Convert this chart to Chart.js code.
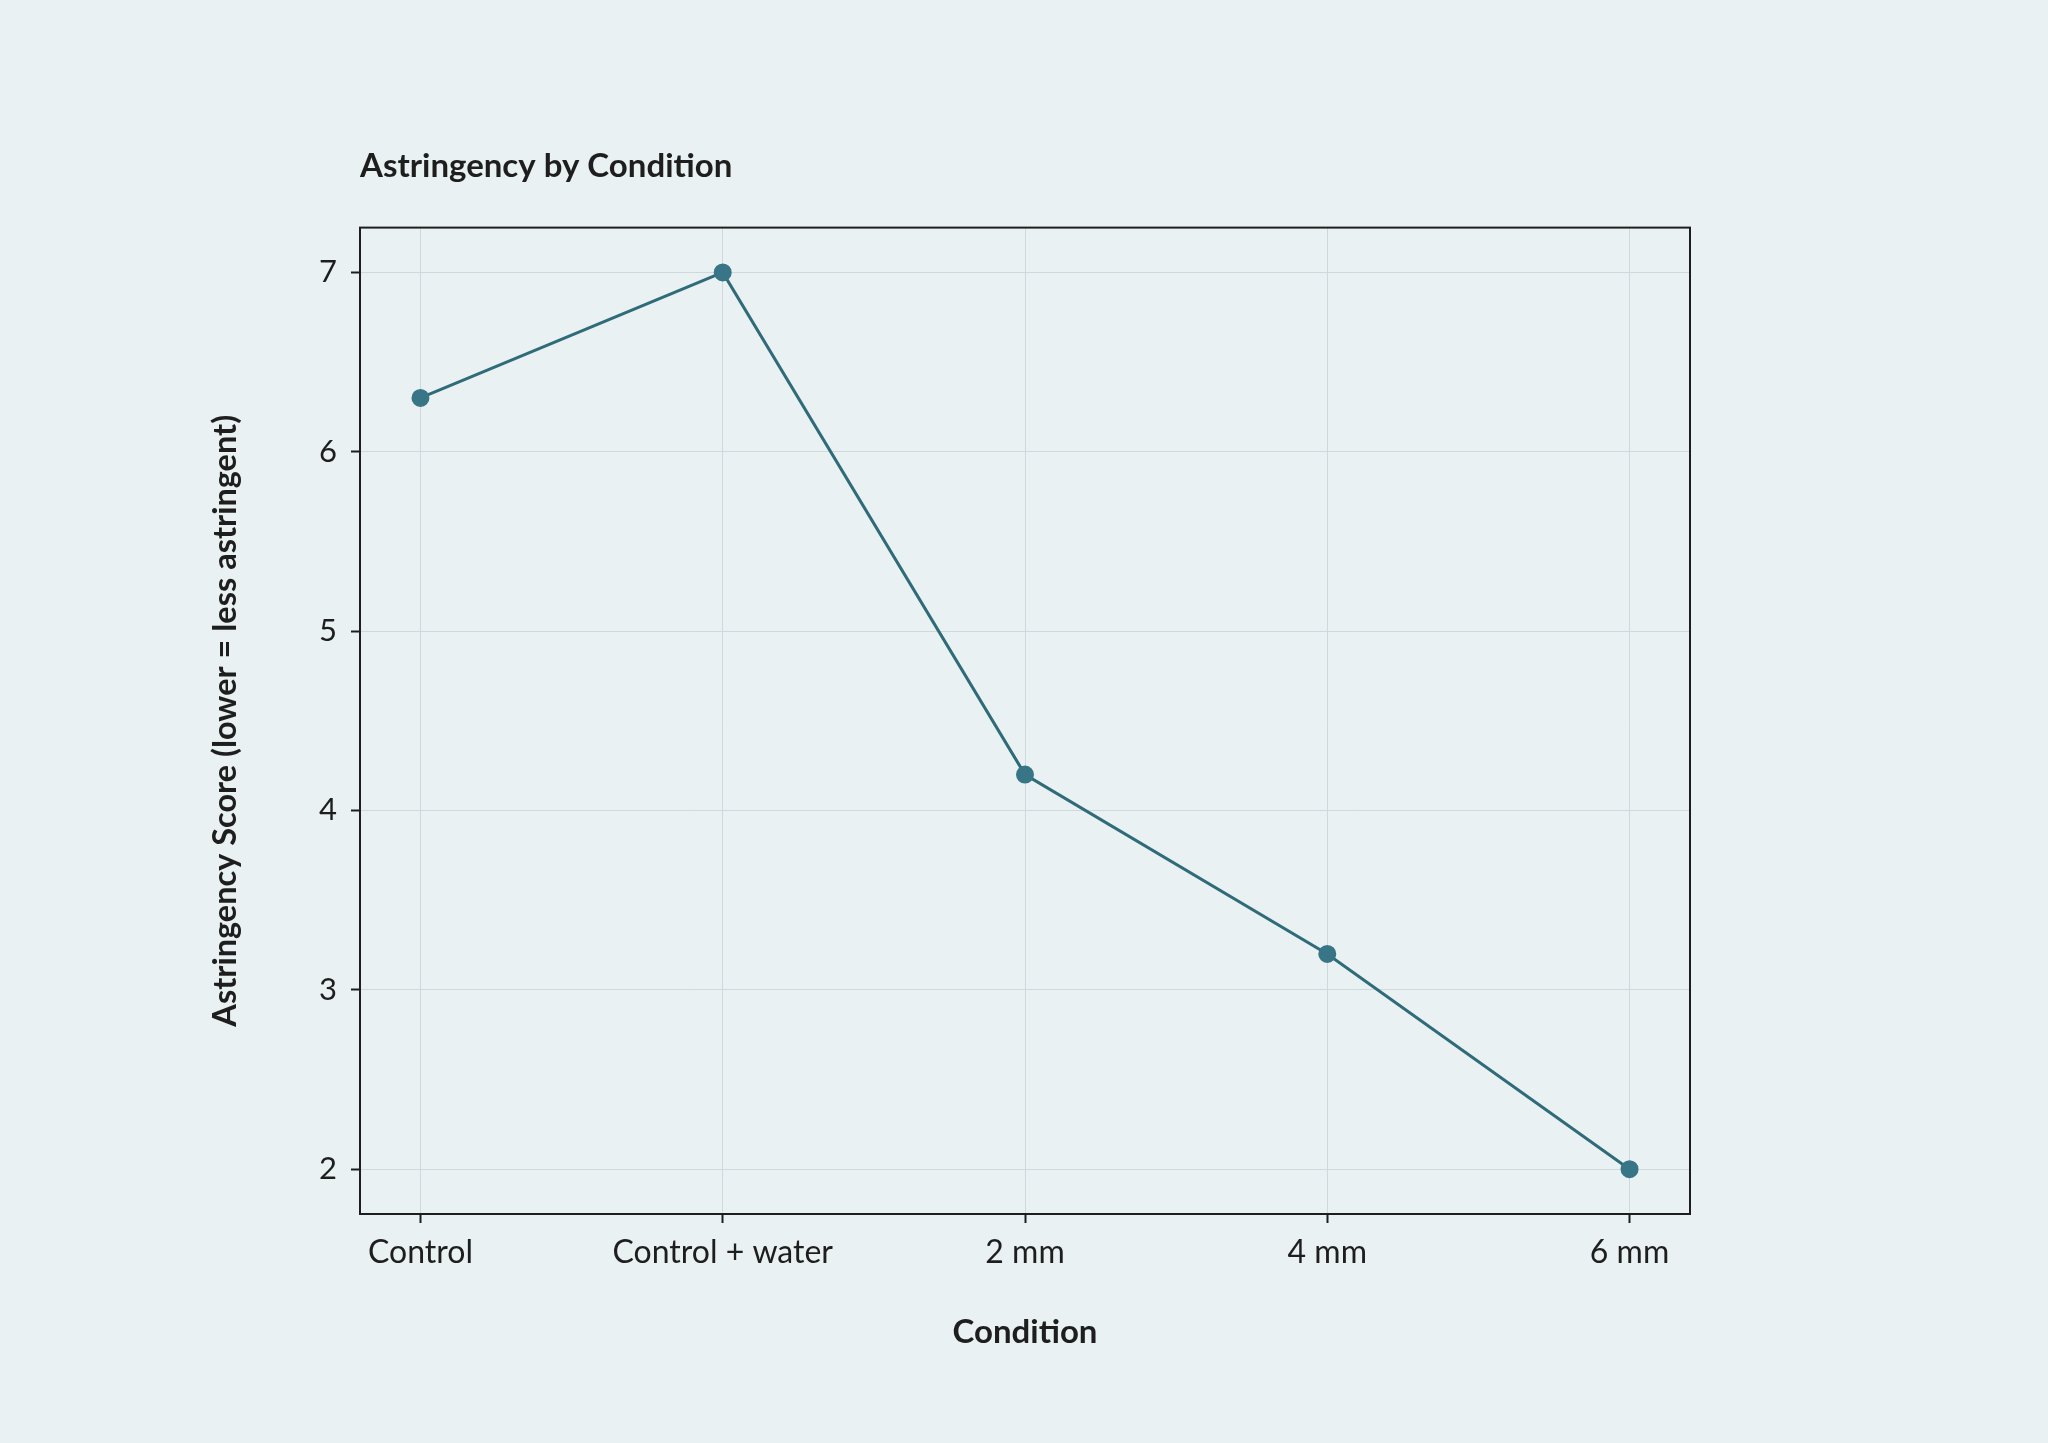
<!DOCTYPE html>
<html>
<head>
<meta charset="utf-8">
<script src="https://cdn.jsdelivr.net/npm/chart.js@4.4.1/dist/chart.umd.min.js"></script>
<style>
  html, body { margin: 0; padding: 0; background: #e9f1f3; }
  #wrap { width: 2048px; height: 1443px; position: relative; }
</style>
</head>
<body>
<div id="wrap"><canvas id="c" width="2048" height="1443"></canvas></div>
<script>
const categories = ["Control", "Control + water", "2 mm", "4 mm", "6 mm"];
const scores = [6.3, 7.0, 4.2, 3.2, 2.0];
const yTicks = [2, 3, 4, 5, 6, 7];
const chartTitle = "Astringency by Condition";
const xTitle = "Condition";
const yTitle = "Astringency Score (lower = less astringent)";

const FONT = "Lato, 'Open Sans', sans-serif";
const TEXT = "#1e1e1e";

const boxBorder = {
  id: 'boxBorder',
  afterDatasetsDraw(chart) {
    const a = chart.chartArea, ctx = chart.ctx;
    ctx.save();
    ctx.strokeStyle = '#1e1e1e';
    ctx.lineWidth = 2;
    ctx.strokeRect(a.left, a.top, a.right - a.left, a.bottom - a.top);
    ctx.restore();
  }
};

new Chart(document.getElementById('c'), {
  type: 'line',
  data: {
    datasets: [{
      data: scores.map((v, i) => ({ x: i, y: v })),
      borderColor: '#2f6b78',
      borderWidth: 3,
      pointBackgroundColor: '#387587',
      pointBorderColor: '#387587',
      pointRadius: 7.5,
      pointHoverRadius: 7.5,
      tension: 0,
      fill: false
    }]
  },
  options: {
    responsive: false,
    animation: false,
    layout: { padding: { left: 206.5, right: 358, top: 147, bottom: 91 } },
    plugins: {
      legend: { display: false },
      tooltip: { enabled: false },
      title: {
        display: true,
        text: chartTitle,
        align: 'start',
        fullSize: false,
        color: TEXT,
        font: { family: FONT, size: 33, weight: 'bold' },
        padding: { top: 0, bottom: 41 }
      }
    },
    scales: {
      x: {
        type: 'linear',
        min: -0.2,
        max: 4.2,
        afterBuildTicks: (s) => { s.ticks = categories.map((c, i) => ({ value: i })); },
        afterFit: (s) => { s.height = 138; },
        ticks: {
          callback: (v) => categories[v] ?? '',
          color: TEXT,
          font: { family: FONT, size: 32 },
          padding: 10,
          maxRotation: 0,
          autoSkip: false
        },
        grid: { color: '#cfd8dc', lineWidth: 1, tickLength: 9, tickColor: '#1e1e1e', tickWidth: 2 },
        border: { display: false },
        title: {
          display: true,
          text: xTitle,
          color: TEXT,
          font: { family: FONT, size: 33, weight: 'bold' },
          padding: { top: 0, bottom: 0 }
        }
      },
      y: {
        type: 'linear',
        min: 1.75,
        max: 7.25,
        afterBuildTicks: (s) => { s.ticks = yTicks.map(v => ({ value: v })); },
        afterFit: (s) => { s.width = 153.5; },
        ticks: {
          color: TEXT,
          font: { family: FONT, size: 31 },
          padding: 14
        },
        grid: { color: '#cfd8dc', lineWidth: 1, tickLength: 9, tickColor: '#1e1e1e', tickWidth: 2 },
        border: { display: false },
        title: {
          display: true,
          text: yTitle,
          color: TEXT,
          font: { family: FONT, size: 32.5, weight: 'bold' },
          padding: { top: 0, bottom: 0 }
        }
      }
    }
  },
  plugins: [boxBorder]
});
</script>
</body>
</html>
